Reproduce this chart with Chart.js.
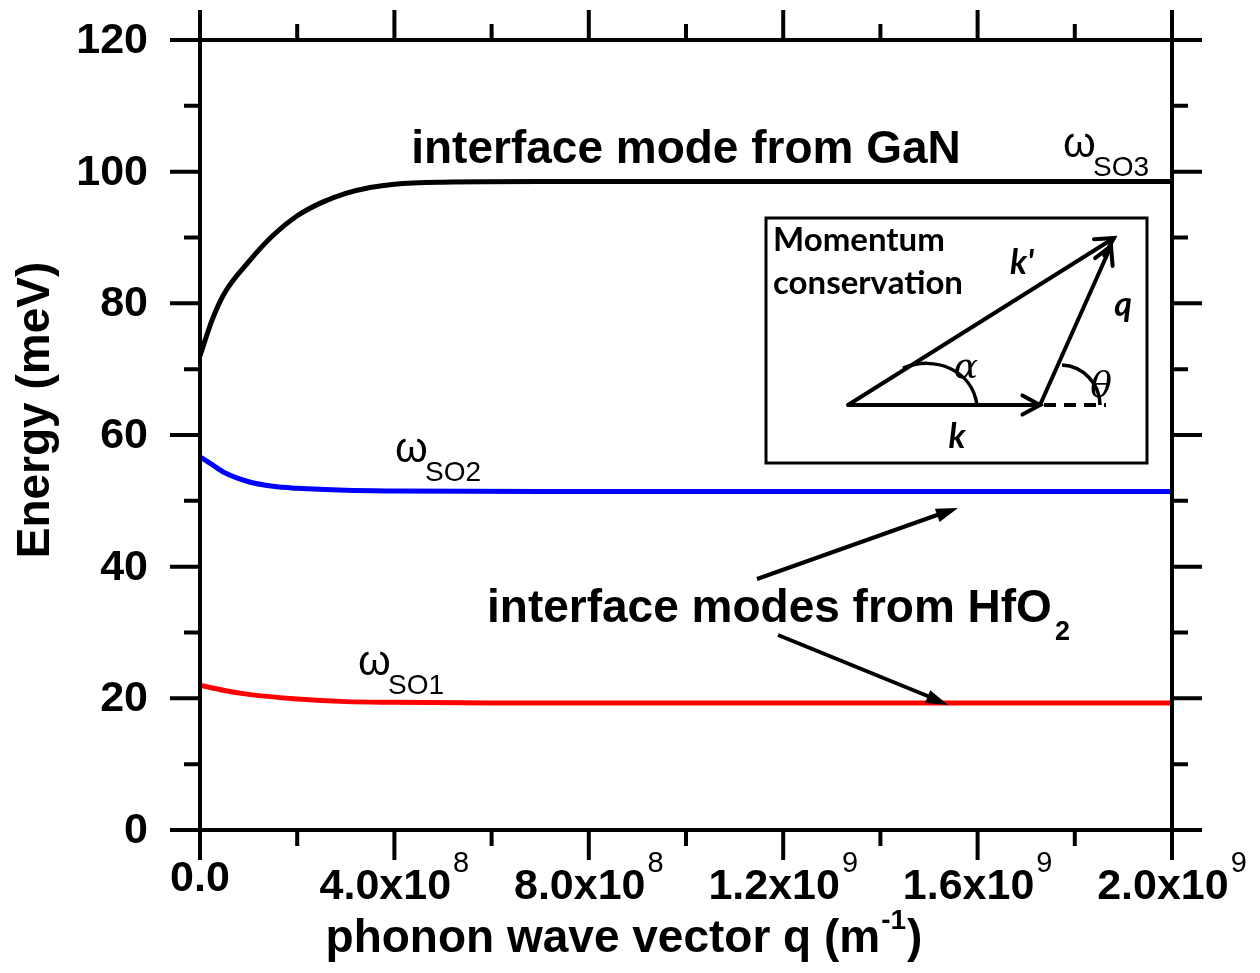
<!DOCTYPE html>
<html lang="en">
<head>
<meta charset="UTF-8">
<title>Interface phonon modes</title>
<script src="https://cdn.jsdelivr.net/npm/chart.js@4"></script>
<style>
  body { margin: 0; background: #fff; }
  canvas { display: block; }
</style>
</head>
<body>
<canvas id="myChart" width="1260" height="973"></canvas>
<script>
// wave vector q (m^-1) and mode energies (meV)
const qSO3 = [0, 0.025e9, 0.05e9, 0.1e9, 0.15e9, 0.2e9, 0.25e9, 0.3e9, 0.35e9, 0.4e9, 0.5e9, 0.7e9, 1.0e9, 1.5e9, 2.0e9];
const eSO3 = [72, 77.5, 81.5, 86.3, 90.3, 93.3, 95.3, 96.7, 97.6, 98.1, 98.4, 98.5, 98.5, 98.5, 98.5];

const qSO2 = [0, 0.025e9, 0.05e9, 0.1e9, 0.15e9, 0.2e9, 0.3e9, 0.4e9, 0.7e9, 1.0e9, 1.5e9, 2.0e9];
const eSO2 = [56.7, 55.5, 54.3, 52.9, 52.2, 51.9, 51.6, 51.5, 51.4, 51.4, 51.4, 51.4];

const qSO1 = [0, 0.05e9, 0.1e9, 0.2e9, 0.3e9, 0.4e9, 0.6e9, 1.0e9, 1.5e9, 2.0e9];
const eSO1 = [22.0, 21.2, 20.6, 19.9, 19.5, 19.4, 19.3, 19.3, 19.3, 19.3];

const yTicks = [0, 20, 40, 60, 80, 100, 120];
const xTicks = [0, 0.4e9, 0.8e9, 1.2e9, 1.6e9, 2.0e9];
const xTickMain = ['0.0', '4.0x10', '8.0x10', '1.2x10', '1.6x10', '2.0x10'];
const xTickExp = ['', '8', '8', '9', '9', '9'];

function pts(xs, ys) {
  return xs.map((x, i) => ({ x: x, y: ys[i] }));
}

const FONT = '"Liberation Sans", Arial, sans-serif';
const INSET_FONT = 'Lato, "Open Sans", sans-serif';

function arrowHead(ctx, x1, y1, x2, y2, len, wid) {
  const a = Math.atan2(y2 - y1, x2 - x1);
  ctx.beginPath();
  ctx.moveTo(x2, y2);
  ctx.lineTo(x2 - len * Math.cos(a) + wid * Math.sin(a), y2 - len * Math.sin(a) - wid * Math.cos(a));
  ctx.lineTo(x2 - len * Math.cos(a) - wid * Math.sin(a), y2 - len * Math.sin(a) + wid * Math.cos(a));
  ctx.closePath();
  ctx.fill();
}

function chevron(ctx, x1, y1, x2, y2, len) {
  const a = Math.atan2(y2 - y1, x2 - x1);
  ctx.beginPath();
  ctx.moveTo(x2 - len * Math.cos(a - 0.5), y2 - len * Math.sin(a - 0.5));
  ctx.lineTo(x2, y2);
  ctx.lineTo(x2 - len * Math.cos(a + 0.5), y2 - len * Math.sin(a + 0.5));
  ctx.stroke();
}

const framePlugin = {
  id: 'frame',
  afterDraw(chart) {
    const ctx = chart.ctx;
    const xs = chart.scales.x, ys = chart.scales.y;
    const L = xs.left, R = xs.right, T = ys.top, B = ys.bottom;
    ctx.save();
    ctx.strokeStyle = '#000';
    ctx.fillStyle = '#000';
    ctx.lineCap = 'butt';
    ctx.lineWidth = 4;

    // frame
    ctx.strokeRect(L, T, R - L, B - T);

    // ticks
    ctx.beginPath();
    for (let v = 0; v <= 120; v += 10) {
      const y = ys.getPixelForValue(v);
      const len = v % 20 === 0 ? 30 : 16;
      ctx.moveTo(L, y); ctx.lineTo(L - len, y);
      ctx.moveTo(R, y); ctx.lineTo(R + len, y);
    }
    for (let i = 0; i <= 10; i++) {
      const x = xs.getPixelForValue(i * 0.2e9);
      const len = i % 2 === 0 ? 30 : 16;
      ctx.moveTo(x, B); ctx.lineTo(x, B + len);
      ctx.moveTo(x, T); ctx.lineTo(x, T - len);
    }
    ctx.stroke();

    // y tick labels
    ctx.font = 'bold 43px ' + FONT;
    ctx.textAlign = 'right';
    ctx.textBaseline = 'middle';
    yTicks.forEach(v => {
      ctx.fillText(String(v), 148, ys.getPixelForValue(v) + 1);
    });

    // x tick labels with exponents
    ctx.textBaseline = 'alphabetic';
    ctx.textAlign = 'left';
    xTicks.forEach((v, i) => {
      const x = xs.getPixelForValue(v);
      ctx.font = 'bold 43px ' + FONT;
      const wm = ctx.measureText(xTickMain[i]).width;
      ctx.font = '29px ' + FONT;
      const we = xTickExp[i] ? ctx.measureText(xTickExp[i]).width + 2 : 0;
      const x0 = x - (wm + we) / 2;
      const base = xTickExp[i] ? 899 : 891;
      ctx.font = 'bold 43px ' + FONT;
      ctx.fillText(xTickMain[i], x0, base);
      if (xTickExp[i]) {
        ctx.font = '29px ' + FONT;
        ctx.fillText(xTickExp[i], x0 + wm + 2, base - 27);
      }
    });

    // x title
    ctx.font = 'bold 46px ' + FONT;
    const t1 = 'phonon wave vector q (m', t2 = '-1', t3 = ')';
    const w1 = ctx.measureText(t1).width, w3 = ctx.measureText(t3).width;
    ctx.font = 'bold 28px ' + FONT;
    const w2 = ctx.measureText(t2).width;
    let tx = 624 - (w1 + w2 + w3 + 2) / 2;
    ctx.font = 'bold 46px ' + FONT;
    ctx.fillText(t1, tx, 952);
    ctx.font = 'bold 28px ' + FONT;
    ctx.fillText(t2, tx + w1 + 1, 929);
    ctx.font = 'bold 46px ' + FONT;
    ctx.fillText(t3, tx + w1 + w2 + 2, 952);

    // y title
    ctx.save();
    ctx.translate(49, 410);
    ctx.rotate(-Math.PI / 2);
    ctx.textAlign = 'center';
    ctx.font = 'bold 46px ' + FONT;
    ctx.fillText('Energy (meV)', 0, 0);
    ctx.restore();

    // annotations
    ctx.textAlign = 'center';
    ctx.font = 'bold 46px ' + FONT;
    ctx.fillText('interface mode from GaN', 686, 163);

    ctx.textAlign = 'left';
    ctx.font = 'bold 46px ' + FONT;
    const hf = 'interface modes from HfO';
    ctx.fillText(hf, 487, 622);
    const whf = ctx.measureText(hf).width;
    ctx.font = 'bold 27px ' + FONT;
    ctx.fillText('2', 487 + whf + 3, 640);

    // omega labels
    const omega = (x, y, sub) => {
      ctx.font = '42px ' + FONT;
      ctx.fillText('\u03C9', x - 2, y);
      ctx.font = '28px ' + FONT;
      ctx.fillText(sub, x + 28, y + 19);
    };
    omega(1065, 157, 'SO3');
    omega(397, 462, 'SO2');
    omega(360, 675, 'SO1');

    // pointer arrows
    ctx.lineWidth = 4;
    ctx.beginPath();
    ctx.moveTo(757, 579); ctx.lineTo(940, 514);
    ctx.moveTo(778, 635); ctx.lineTo(930, 697);
    ctx.stroke();
    arrowHead(ctx, 757, 579, 958, 508, 22, 7);
    arrowHead(ctx, 778, 635, 948, 705, 22, 7);

    // inset
    ctx.fillStyle = '#fff';
    ctx.fillRect(766, 218, 381, 245);
    ctx.fillStyle = '#000';
    ctx.lineWidth = 3;
    ctx.strokeRect(766, 218, 381, 245);
    ctx.font = 'bold 33px ' + INSET_FONT;
    ctx.fillText('Momentum', 773, 251);
    ctx.fillText('conservation', 773, 294);

    ctx.lineWidth = 4;
    ctx.lineCap = 'round';
    ctx.beginPath();
    ctx.moveTo(848, 405); ctx.lineTo(1040, 405);
    ctx.moveTo(848, 405); ctx.lineTo(1114, 238);
    ctx.moveTo(1040, 405); ctx.lineTo(1111, 246);
    ctx.stroke();
    chevron(ctx, 848, 405, 1040, 405, 20);
    chevron(ctx, 848, 405, 1114, 238, 20);
    chevron(ctx, 1040, 405, 1111, 246, 20);

    ctx.lineCap = 'butt';
    ctx.setLineDash([12, 8]);
    ctx.beginPath();
    ctx.moveTo(1044, 405); ctx.lineTo(1106, 405);
    ctx.stroke();
    ctx.setLineDash([]);

    ctx.lineWidth = 3.5;
    ctx.beginPath();
    ctx.moveTo(903, 368);
    ctx.bezierCurveTo(935, 355, 972, 370, 977, 405);
    ctx.stroke();
    ctx.beginPath();
    ctx.arc(1060, 405, 40, -Math.PI / 2 + 0.05, 0);
    ctx.stroke();

    ctx.textAlign = 'center';
    ctx.font = 'italic 36px "DejaVu Serif", serif';
    ctx.fillText('\u03B1', 966, 378);
    ctx.fillText('\u03B8', 1101, 397);
    ctx.font = 'bold italic 34px ' + INSET_FONT;
    ctx.fillText('k', 957, 448);
    ctx.fillText("k'", 1022, 274);
    ctx.fillText('q', 1123, 316);

    ctx.restore();
  }
};

const ctx = document.getElementById('myChart');

new Chart(ctx, {
  type: 'line',
  data: {
    datasets: [
      { label: 'SO3', data: pts(qSO3, eSO3), borderColor: '#000', borderWidth: 5 },
      { label: 'SO2', data: pts(qSO2, eSO2), borderColor: '#0000ff', borderWidth: 5 },
      { label: 'SO1', data: pts(qSO1, eSO1), borderColor: '#ff0000', borderWidth: 5 }
    ]
  },
  options: {
    responsive: false,
    animation: false,
    layout: { padding: { left: 200, right: 88, top: 40, bottom: 143 } },
    elements: {
      point: { radius: 0 },
      line: { cubicInterpolationMode: 'monotone', fill: false }
    },
    plugins: { legend: { display: false }, tooltip: { enabled: false } },
    scales: {
      x: { type: 'linear', min: 0, max: 2.0e9, display: false },
      y: { type: 'linear', min: 0, max: 120, display: false }
    }
  },
  plugins: [framePlugin]
});
</script>
</body>
</html>
